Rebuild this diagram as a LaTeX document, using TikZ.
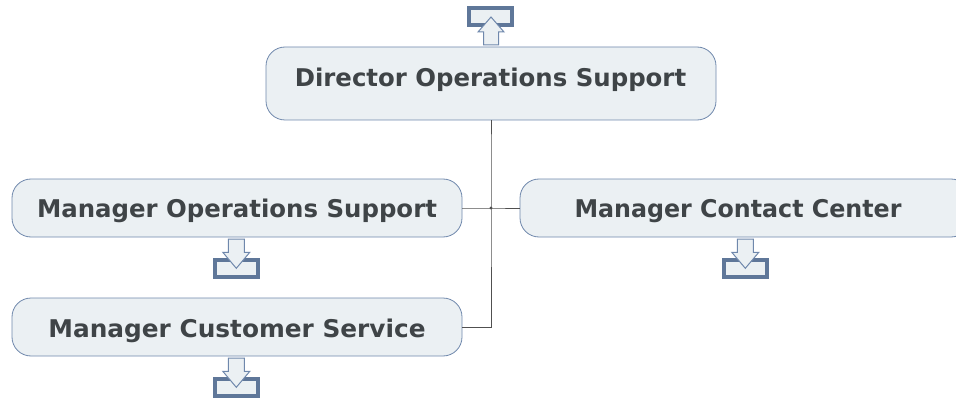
\documentclass[tikz,border=0pt]{standalone}
\usepackage{fontspec}
\setmainfont{DejaVu Sans}
\definecolor{boxfill}{HTML}{EBF0F3}
\definecolor{boxline}{HTML}{6F88AC}
\definecolor{iconline}{HTML}{5F7799}
\definecolor{txt}{HTML}{3F4447}
\definecolor{wire}{HTML}{505050}
\tikzset{
  x=1pt,y=-1pt,
  role/.style={draw=boxline,fill=boxfill,line width=0.8pt,rounded corners=19pt,minimum width=450pt,
    text=txt,font=\bfseries\fontsize{24.4pt}{28pt}\selectfont,inner sep=0pt,align=center},
  wire/.style={draw=wire,line width=1pt},
  tray/.style={draw=iconline,fill=boxfill,line width=4pt},
  arrowicon/.style={draw=boxline,fill=boxfill,line width=1pt,line join=miter},
}
\newcommand{\downicon}[2]{%
  \draw[tray] (#1-21.5,#2+20.7) rectangle (#1+21.5,#2+37.7);
  \draw[arrowicon] (#1-8,#2) -- (#1+8,#2) -- (#1+8,#2+13.3) -- (#1+13.5,#2+13.3) -- (#1,#2+29.3) -- (#1-13.5,#2+13.3) -- (#1-8,#2+13.3) -- cycle;
}
% #1 horizontal scale, #2 horizontal shift, #3 raise, #4 text
\newcommand{\shifted}[4]{\hspace*{#2}\raisebox{#3}[0pt][0pt]{\scalebox{#1}[1]{#4}}}
\begin{document}
\begin{tikzpicture}
\useasboundingbox (0,0) rectangle (956,401);
\clip (0,0) rectangle (956,401);
\node[role,minimum height=73pt] (dir) at (491,83.5) {\shifted{1}{-1pt}{-3.5pt}{Director Operations Support}};
\node[role,minimum height=58pt] (ops) at (237,208) {\shifted{1}{0pt}{-9pt}{Manager Operations Support}};
\node[role,minimum height=58pt] (cc) at (745,208) {\shifted{0.973}{-14pt}{-9pt}{Manager Contact Center}};
\node[role,minimum height=58pt] (cs) at (237,327) {\shifted{1.016}{0pt}{-10pt}{Manager Customer Service}};
\coordinate (tick) at (491,148);
\coordinate (hub) at (491,208);
\coordinate (elbow) at (491,327);
\draw[wire] (dir.south) -- (tick) -- (hub) -- (elbow) -- (cs.east);
\draw[wire] (ops.east) -- (hub) -- (cc.west);
\fill[wire] (hub) circle (0.9pt);
% up icon above the director
\draw[tray] (469,8) rectangle (511.7,24.7);
\draw[arrowicon] (483.5,45) -- (498.5,45) -- (498.5,32) -- (504,32) -- (491,17) -- (478,32) -- (483.5,32) -- cycle;
\downicon{236.3}{239}
\downicon{745.3}{239}
\downicon{236.3}{358}
\end{tikzpicture}
\end{document}
